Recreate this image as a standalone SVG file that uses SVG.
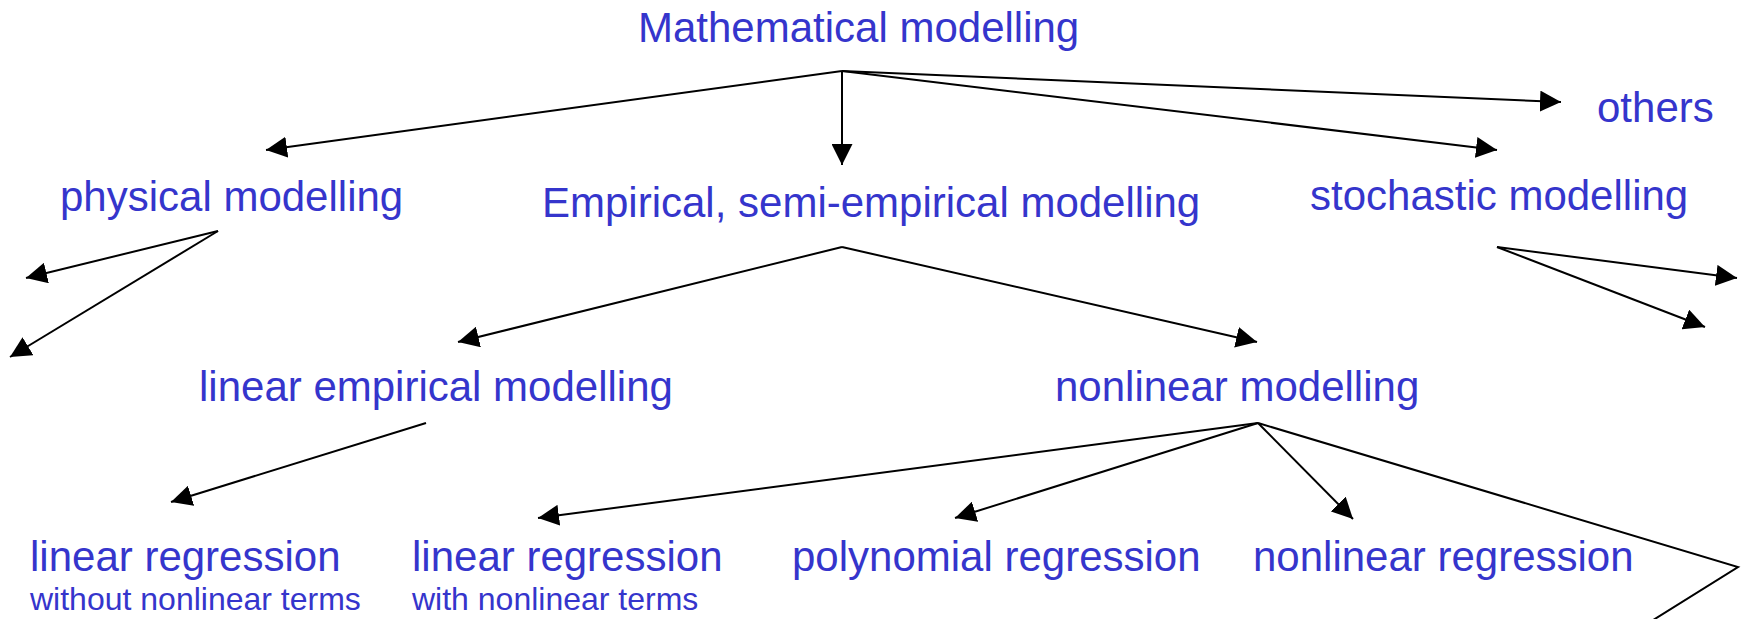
<svg xmlns="http://www.w3.org/2000/svg" width="1744" height="619" viewBox="0 0 1744 619">
<style>
.t{font-family:"Liberation Sans",Arial,sans-serif;font-size:42px;fill:#3535CC}
.s{font-size:32px}
.c line,.c polyline{stroke:#000;stroke-width:2;fill:none}
.c line{marker-end:url(#ah)}
</style>
<defs>
<marker id="ah" viewBox="0 0 21 21" refX="21" refY="10.5" markerWidth="21" markerHeight="21" markerUnits="userSpaceOnUse" orient="auto">
<path d="M0,0 L21,10.5 L0,21 z" fill="#000"/>
</marker>
</defs>
<rect width="1744" height="619" fill="#fff"/>
<g class="c" id="connectors">
<line x1="842" y1="71" x2="266" y2="150"/>
<line x1="842" y1="71" x2="842" y2="165"/>
<line x1="842" y1="71" x2="1497" y2="150"/>
<line x1="842" y1="71" x2="1561" y2="102"/>
<line x1="218" y1="231" x2="26" y2="278"/>
<line x1="218" y1="231" x2="10" y2="357"/>
<line x1="842" y1="247" x2="458" y2="342"/>
<line x1="842" y1="247" x2="1257" y2="342"/>
<line x1="1497" y1="247" x2="1737" y2="278"/>
<line x1="1497" y1="247" x2="1705" y2="327"/>
<line x1="426" y1="423" x2="171" y2="502"/>
<line x1="1258" y1="423" x2="538" y2="518"/>
<line x1="1258" y1="423" x2="955" y2="518"/>
<line x1="1258" y1="423" x2="1353" y2="519"/>
<polyline points="1258,423 1738,567 1610,647"/>
</g>
<g id="n-math"><text class="t" x="638" y="42">Mathematical modelling</text></g>
<g id="n-phys"><text class="t" x="60" y="211">physical modelling</text></g>
<g id="n-emp"><text class="t" x="542" y="217">Empirical, semi-empirical modelling</text></g>
<g id="n-stoch"><text class="t" x="1310" y="210">stochastic modelling</text></g>
<g id="n-others"><text class="t" x="1597" y="122">others</text></g>
<g id="n-linemp"><text class="t" x="199" y="401">linear empirical modelling</text></g>
<g id="n-nonlin"><text class="t" x="1055" y="401">nonlinear modelling</text></g>
<g id="n-linreg1"><text class="t" x="30" y="571">linear regression</text><text class="t s" x="30" y="610">without nonlinear terms</text></g>
<g id="n-linreg2"><text class="t" x="412" y="571">linear regression</text><text class="t s" x="412" y="610">with nonlinear terms</text></g>
<g id="n-poly"><text class="t" x="792" y="571">polynomial regression</text></g>
<g id="n-nonreg"><text class="t" x="1253" y="571">nonlinear regression</text></g>
</svg>
